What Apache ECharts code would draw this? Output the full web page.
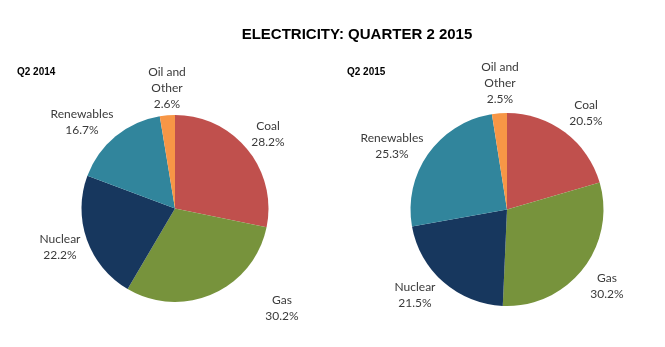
<!DOCTYPE html>
<html>
<head>
<meta charset="utf-8">
<script src="https://cdn.jsdelivr.net/npm/echarts@6/dist/echarts.min.js"></script>
<style>
html,body{margin:0;padding:0;background:#fff;}
#c{width:665px;height:347px;}
</style>
</head>
<body>
<div id="c"></div>
<script>
// ---- data ----
const categories = ['Coal', 'Gas', 'Nuclear', 'Renewables', 'Oil and Other'];
const values2014 = [28.2, 30.2, 22.2, 16.7, 2.6];
const values2015 = [20.5, 30.2, 21.5, 25.3, 2.5];
const panelTitles = ['Q2 2014', 'Q2 2015'];
const chartTitle = 'ELECTRICITY: QUARTER 2 2015';

// ---- styles / layout ----
const colors = ['#C0504D', '#77933C', '#17375E', '#31859C', '#F79646'];
const labelPos2014 = [[268, 134], [282, 308], [60, 247], [82, 122], [167, 88]];
const labelPos2015 = [[586, 113], [607, 286], [415, 295], [392, 146], [500, 83]];

const chart = echarts.init(document.getElementById('c'), null, {renderer: 'canvas'});

function makeSeries(values, center, radius, labelPos) {
  return {
    type: 'pie',
    center: center,
    radius: radius,
    startAngle: 90,
    clockwise: true,
    avoidLabelOverlap: false,
    animation: false,
    silent: true,
    data: categories.map((n, i) => ({name: n, value: values[i], itemStyle: {color: colors[i]}})),
    itemStyle: {borderWidth: 0},
    label: {
      show: true,
      position: 'outside',
      fontFamily: 'Lato',
      fontSize: 12,
      lineHeight: 16,
      color: '#3a3a3a',
      align: 'center',
      formatter: p => p.name.replace(' and ', ' and\n') + '\n' + p.value.toFixed(1) + '%'
    },
    labelLine: {show: false},
    labelLayout: p => ({
      x: labelPos[p.dataIndex][0],
      y: labelPos[p.dataIndex][1],
      align: 'center',
      verticalAlign: 'middle'
    })
  };
}

chart.setOption({
  backgroundColor: '#ffffff',
  animation: false,
  title: [
    {text: chartTitle, left: 357, top: 27, textAlign: 'center', padding: 0,
     textStyle: {fontFamily: 'Liberation Sans', fontWeight: 'bold', fontSize: 15, color: '#000'}},
    {text: panelTitles[0], left: 17, top: 67, padding: 0,
     textStyle: {fontFamily: 'Liberation Sans', fontWeight: 'bold', fontSize: 10, color: '#000'}},
    {text: panelTitles[1], left: 347, top: 67, padding: 0,
     textStyle: {fontFamily: 'Liberation Sans', fontWeight: 'bold', fontSize: 10, color: '#000'}}
  ],
  series: [
    makeSeries(values2014, [175, 208.5], 93.5, labelPos2014),
    makeSeries(values2015, [507, 209.5], 96.5, labelPos2015)
  ]
});
</script>
</body>
</html>
